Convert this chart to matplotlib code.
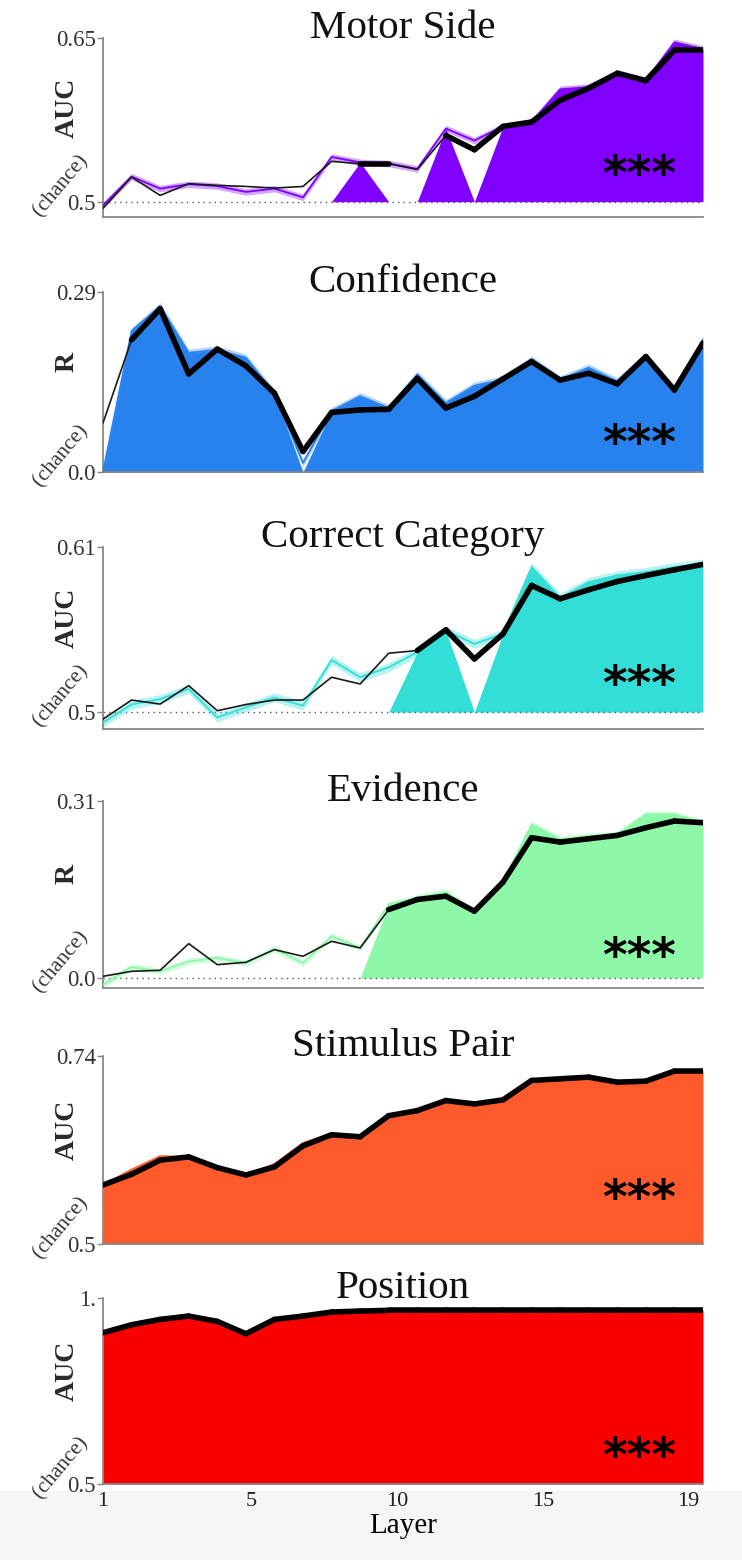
import numpy as np
import matplotlib.pyplot as plt
from matplotlib.patches import Rectangle

plt.rcParams['font.family'] = ['Liberation Serif', 'DejaVu Serif']

layer = np.arange(22)
xtick_pos = [0, 5.2, 10.3, 15.4, 20.5]
xtick_labels = ["1", "5", "10", "15", "19"]

titles = ["Motor Side", "Confidence", "Correct Category", "Evidence", "Stimulus Pair", "Position"]
ylabels = ["AUC", "R", "AUC", "R", "AUC", "AUC"]
chance = [0.5, 0.0, 0.5, 0.0, 0.5, 0.5]
ytop = [0.65, 0.29, 0.61, 0.31, 0.74, 1.0]
ytop_labels = ["0.65", "0.29", "0.61", "0.31", "0.74", "1."]
chance_labels = ["0.5", "0.0", "0.5", "0.0", "0.5", "0.5"]
colors = ["#7F00FF", "#2882EE", "#33DED6", "#8CF8A8", "#FF5A2B", "#FA0000"]

# black line (other model)
motor_black = [0.494, 0.5226, 0.5058, 0.5165, 0.515, 0.514, 0.5125, 0.514, 0.537, 0.5348, 0.5348,
               0.5296, 0.5607, 0.5476, 0.569, 0.573, 0.593, 0.604, 0.6177, 0.611, 0.639, 0.639]
conf_black = [0.079, 0.213, 0.263, 0.158, 0.198, 0.171, 0.127, 0.033, 0.096, 0.100, 0.101,
              0.151, 0.103, 0.122, 0.150, 0.178, 0.148, 0.159, 0.142, 0.186, 0.132, 0.208]
cat_black = [0.4953, 0.508, 0.5053, 0.5176, 0.5009, 0.505, 0.508, 0.508, 0.5232, 0.5187, 0.5392,
             0.541, 0.5548, 0.5354, 0.5521, 0.5844, 0.5755, 0.5815, 0.587, 0.591, 0.5948, 0.5984]
evid_black = [0.003, 0.0117, 0.0135, 0.0602, 0.0234, 0.0275, 0.0497, 0.038, 0.0643, 0.0526, 0.1199,
              0.1375, 0.1433, 0.117, 0.1679, 0.2457, 0.238, 0.2439, 0.2497, 0.2632, 0.2749, 0.272]
stim_black = [0.5753, 0.589, 0.607, 0.6112, 0.5975, 0.5881, 0.5984, 0.6253, 0.6395, 0.6369, 0.6638,
              0.6703, 0.6831, 0.6788, 0.684, 0.7088, 0.7109, 0.713, 0.7066, 0.7079, 0.7207, 0.7207]
pos_black = [0.9066, 0.9282, 0.9425, 0.9515, 0.9372, 0.904, 0.9425, 0.9515, 0.9623, 0.965, 0.9668,
             0.9668, 0.9668, 0.9668, 0.9668, 0.9668, 0.9668, 0.9668, 0.9668, 0.9668, 0.9668, 0.9668]

# coloured line (mean)
motor_color = [0.4966, 0.523, 0.512, 0.516, 0.5143, 0.509, 0.512, 0.504, 0.541, 0.536, 0.535,
               0.53, 0.567, 0.556, 0.569, 0.573, 0.603, 0.605, 0.618, 0.611, 0.646, 0.64]
conf_color = [0.0, 0.227, 0.267, 0.192, 0.197, 0.184, 0.127, 0.0145, 0.098, 0.122, 0.103,
              0.157, 0.111, 0.139, 0.149, 0.181, 0.149, 0.168, 0.146, 0.186, 0.133, 0.213]
cat_color = [0.493, 0.505, 0.5087, 0.5154, 0.4964, 0.5031, 0.5098, 0.5042, 0.5347, 0.5232, 0.5298,
             0.5399, 0.5543, 0.5454, 0.5521, 0.5966, 0.5762, 0.5866, 0.5911, 0.5933, 0.5966, 0.5989]
evid_color = [-0.0117, 0.0193, 0.0117, 0.0292, 0.0351, 0.0263, 0.0509, 0.0263, 0.0731, 0.0526, 0.1287,
              0.1404, 0.1503, 0.117, 0.1679, 0.269, 0.2427, 0.2486, 0.2515, 0.2866, 0.2866, 0.272]
stim_color = [0.5753, 0.595, 0.612, 0.6112, 0.5975, 0.5885, 0.602, 0.629, 0.641, 0.6369, 0.6645,
              0.6703, 0.6831, 0.681, 0.684, 0.709, 0.7109, 0.713, 0.7075, 0.7079, 0.7207, 0.7207]
pos_color = [0.9066, 0.931, 0.945, 0.9515, 0.9372, 0.904, 0.9425, 0.9515, 0.9623, 0.965, 0.9668,
             0.9668, 0.9668, 0.9668, 0.9668, 0.9668, 0.9668, 0.9668, 0.9668, 0.9668, 0.9668, 0.9668]
sem = [0.003, 0.006, 0.003, 0.006, 0.002, 0.002]

# significant layers (filled) and thick black segments
motor_sig = [0,0,0,0,0,0,0,0,0,1,0,0,1,0,1,1,1,1,1,1,1,1]
conf_sig = [0,1,1,1,1,1,1,0,1,1,1,1,1,1,1,1,1,1,1,1,1,1]
cat_sig = [0,0,0,0,0,0,0,0,0,0,0,1,1,0,1,1,1,1,1,1,1,1]
evid_sig = [0,0,0,0,0,0,0,0,0,0,1,1,1,1,1,1,1,1,1,1,1,1]
stim_sig = [1]*22
pos_sig = [1]*22
motor_thick = [0,0,0,0,0,0,0,0,0,1,1,0,1,1,1,1,1,1,1,1,1,1]
conf_thick = [0,1,1,1,1,1,1,1,1,1,1,1,1,1,1,1,1,1,1,1,1,1]
cat_thick = [0,0,0,0,0,0,0,0,0,0,0,1,1,1,1,1,1,1,1,1,1,1]
evid_thick = [0,0,0,0,0,0,0,0,0,0,1,1,1,1,1,1,1,1,1,1,1,1]
stim_thick = [1]*22
pos_thick = [1]*22

blacks = [motor_black, conf_black, cat_black, evid_black, stim_black, pos_black]
means = [motor_color, conf_color, cat_color, evid_color, stim_color, pos_color]
sigs = [motor_sig, conf_sig, cat_sig, evid_sig, stim_sig, pos_sig]
thicks = [motor_thick, conf_thick, cat_thick, evid_thick, stim_thick, pos_thick]

# layout in pixels
W, H = 742, 1560
tops = [38, 292, 547, 801, 1056, 1298]
bots = [217, 472, 729, 988, 1244, 1484]
ybot = [0.486, 0.0, 0.4887, -0.0175, 0.5, 0.5]
star_px = [163, 432, 673, 945, 1187, 1445]

fig = plt.figure(figsize=(W/100, H/100), dpi=100)
fig.patches.append(Rectangle((0, 0), 1, (H-1491)/H, transform=fig.transFigure,
                             color="#f6f6f6", zorder=-5))

star_size = 34
star_em = star_size*100/72

for k in range(6):
    top, bot = tops[k], bots[k]
    ax = fig.add_axes([103/W, 1-bot/H, 600/W, (bot-top)/H])
    ax.set_facecolor("none")
    ch = chance[k]
    blk = np.array(blacks[k])
    m = np.array(means[k])
    sg = np.array(sigs[k]) > 0
    th = np.array(thicks[k]) > 0
    c = colors[k]

    ax.fill_between(layer, ch, np.where(sg, m, ch), color=c, lw=0, zorder=1)
    ax.fill_between(layer, m-sem[k], m+sem[k], color=c, alpha=0.35, lw=0, zorder=2)
    ax.plot(layer, m, color=c, lw=1.3, zorder=3)
    if ch > ybot[k]:
        ax.axhline(ch, ls=(0, (1, 3)), color="#555555", lw=1, zorder=1.5)
    ax.plot(layer, blk, color="#1a1a1a", lw=1.2, zorder=4)
    for i in range(len(layer)-1):
        if th[i] and th[i+1]:
            ax.plot(layer[i:i+2], blk[i:i+2], color="black", lw=4,
                    solid_capstyle="round", zorder=5)

    ax.set_xlim(0, 21)
    ax.set_ylim(ybot[k], ytop[k])
    for s in ["top", "right"]:
        ax.spines[s].set_visible(False)
    for s in ["left", "bottom"]:
        ax.spines[s].set_color("#888888")
        ax.spines[s].set_linewidth(1.3)
    ax.spines["left"].set_bounds(ybot[k], ytop[k])

    ax.set_yticks([ch, ytop[k]])
    ax.set_yticklabels([chance_labels[k], ytop_labels[k]])
    ax.tick_params(axis="y", length=4, width=1, color="#888888", labelsize=16.5,
                   pad=1, labelcolor="#333333")
    if k < 5:
        ax.set_xticks([])
    else:
        ax.set_xticks(xtick_pos)
        ax.set_xticklabels(xtick_labels)
        ax.tick_params(axis="x", length=0, labelsize=16, pad=6, labelcolor="#222222")
        ax.set_xlabel("Layer", fontsize=21, labelpad=1)

    ax.text(0.5, 1.0, titles[k], transform=ax.transAxes, ha="center", va="baseline",
            fontsize=29.5, color="#111111")
    fig.text(67/W, 1-(top+0.39*(bot-top))/H, ylabels[k], rotation=90, ha="center",
             va="center", fontsize=20, fontweight="bold", color="#2a2a2a")
    ch_px = bot - (ch-ybot[k])/(ytop[k]-ybot[k])*(bot-top)
    fig.text(61/W, 1-(ch_px-16)/H, "(chance)", rotation=50, ha="center", va="center",
             fontsize=15.5, color="#333333")
    fig.text(639/W, 1-(star_px[k]+0.56*star_em)/H, "***", ha="center", va="baseline",
             fontsize=star_size, family="DejaVu Sans", fontweight="bold", color="black",
             zorder=6)

plt.savefig("out.png", dpi=100)
